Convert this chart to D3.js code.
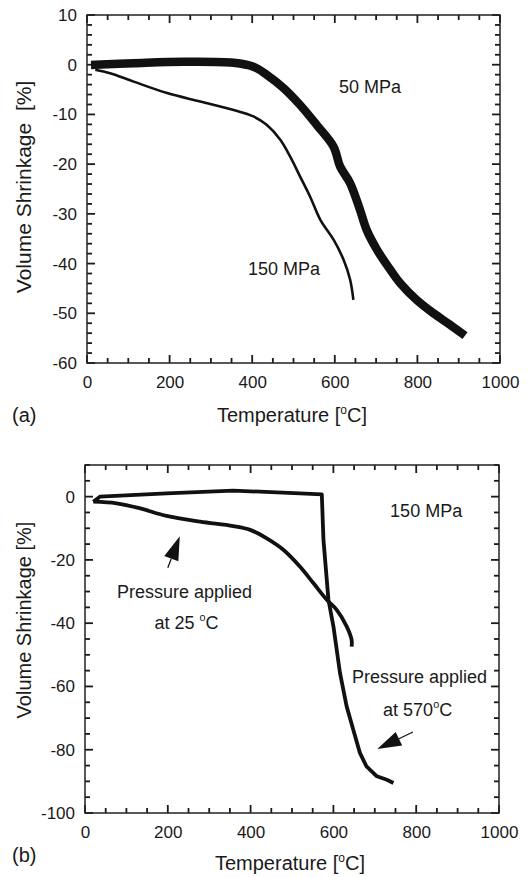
<!DOCTYPE html>
<html>
<head>
<meta charset="utf-8">
<script src="https://cdn.jsdelivr.net/npm/d3@7"></script>
<style>
  body { margin: 0; background: #fff; }
  svg text { font-family: "Liberation Sans", Arial, Helvetica, sans-serif; fill: #1a1a1a; }
  .axis path, .axis line { display: none; }
  .axis text { font-size: 17px; }
</style>
</head>
<body>
<svg id="chart" width="529" height="877"></svg>
<script>
// panel (a): [temperature, shrinkage]
const curve50MPa = [
  [20, 0], [113, 0.3], [234, 0.6], [355, 0.4], [403, -0.4], [435, -2],
  [476, -4.7], [516, -8.1], [556, -12.1], [597, -16.5], [613, -20.5],
  [637, -23.8], [661, -29.2], [677, -33.2], [702, -37.2], [734, -41.2],
  [758, -43.9], [798, -47.3], [839, -50], [879, -52.3], [907, -54]
];
const curve150MPa = [
  [20, -1], [56, -1.7], [113, -3.4], [194, -5.7], [274, -7.4], [355, -9.1],
  [403, -10.4], [435, -12.1], [468, -15.1], [492, -18.5], [516, -22.5],
  [540, -26.5], [565, -31.2], [597, -35.2], [621, -39.2], [637, -43.2], [645, -47.3]
];
// panel (b)
const curveAt570 = [
  [20, -1.6], [36, 0], [197, 1.05], [358, 1.9], [519, 1.05], [572, 0.7],
  [576, -13.7], [588, -32.6], [600, -41], [616, -55.8], [632, -66.3],
  [648, -73.7], [664, -81], [680, -85.3], [705, -88.4], [729, -89.5], [745, -90.5]
];
const curveAt25 = [
  [20, -1.6], [76, -2.1], [133, -3.7], [197, -6.1], [278, -7.9], [358, -9.3],
  [399, -10.5], [439, -13.2], [479, -16.8], [519, -22.1], [552, -27.4],
  [584, -32.6], [608, -35.8], [632, -41], [644, -45.3], [644, -47.4]
];

const xTicks = [0, 200, 400, 600, 800, 1000];
const yTicksA = [10, 0, -10, -20, -30, -40, -50, -60];
const yTicksB = [0, -20, -40, -60, -80, -100];

const svg = d3.select('#chart');

function degLabel(sel, pre, post) {
  sel.append('tspan').text(pre);
  sel.append('tspan').attr('dy', -8).attr('font-size', '0.6em').text('o');
  sel.append('tspan').attr('dy', 8).text(post);
}

function panel(opts) {
  const { left, top, width, height, yDomain, yTicks, yMinor } = opts;
  const g = svg.append('g').attr('transform', `translate(${left},${top})`);
  const x = d3.scaleLinear().domain([0, 1000]).range([0, width]);
  const y = d3.scaleLinear().domain(yDomain).range([height, 0]);
  const xAll = d3.range(0, 1001, 50);
  const yAll = d3.range(yDomain[0], yDomain[1] + 0.001, yMinor);

  // labels via d3 axes
  g.append('g').attr('class', 'axis').attr('transform', `translate(0,${height})`)
    .call(d3.axisBottom(x).tickValues(xTicks).tickSize(0).tickPadding(13).tickFormat(d3.format('d')));
  g.append('g').attr('class', 'axis')
    .call(d3.axisLeft(y).tickValues(yTicks).tickSize(0).tickPadding(10).tickFormat(d => String(d)));

  // inward tick marks on all four sides
  const tk = g.append('g').attr('stroke', '#1a1a1a').attr('stroke-width', 1.8);
  xAll.forEach(v => {
    const len = v % 200 === 0 ? 8 : 5;
    tk.append('line').attr('x1', x(v)).attr('x2', x(v)).attr('y1', height).attr('y2', height - len);
    tk.append('line').attr('x1', x(v)).attr('x2', x(v)).attr('y1', 0).attr('y2', len);
  });
  yAll.forEach(v => {
    const len = yTicks.includes(v) ? 8 : 5;
    tk.append('line').attr('x1', 0).attr('x2', len).attr('y1', y(v)).attr('y2', y(v));
    tk.append('line').attr('x1', width).attr('x2', width - len).attr('y1', y(v)).attr('y2', y(v));
  });

  g.append('rect').attr('width', width).attr('height', height)
    .attr('fill', 'none').attr('stroke', '#222').attr('stroke-width', 1.5);

  return { g, x, y };
}

const line = (x, y) => d3.line().x(d => x(d[0])).y(d => y(d[1])).curve(d3.curveCatmullRom.alpha(0.5));

// ---------- panel (a)
const A = panel({ left: 87, top: 15, width: 413, height: 348, yDomain: [-60, 10], yTicks: yTicksA, yMinor: 2 });
A.g.append('path').datum(curve50MPa).attr('d', line(A.x, A.y))
  .attr('fill', 'none').attr('stroke', '#111').attr('stroke-width', 8.5).attr('stroke-linejoin', 'round').attr('stroke-linecap', 'square');
A.g.append('path').datum(curve150MPa).attr('d', line(A.x, A.y))
  .attr('fill', 'none').attr('stroke', '#111').attr('stroke-width', 2.6).attr('stroke-linejoin', 'round');
A.g.append('text').attr('x', A.x(610)).attr('y', A.y(-4.5)).attr('font-size', 18).attr('dy', '0.35em').text('50 MPa');
A.g.append('text').attr('x', A.x(390)).attr('y', A.y(-41)).attr('font-size', 18).attr('dy', '0.35em').text('150 MPa');

svg.append('text').attr('transform', 'translate(31,187) rotate(-90)').attr('text-anchor', 'middle')
  .attr('font-size', 21).style('white-space', 'pre').text('Volume Shrinkage  [%]');
degLabel(svg.append('text').attr('x', 292).attr('y', 422).attr('text-anchor', 'middle').attr('font-size', 20),
  'Temperature [', 'C]');
svg.append('text').attr('x', 12).attr('y', 422).attr('font-size', 20).text('(a)');

// ---------- panel (b)
const B = panel({ left: 85, top: 465, width: 414, height: 348, yDomain: [-100, 10], yTicks: yTicksB, yMinor: 5 });
// sharp corner where pressure is applied, so no spline here
B.g.append('path').datum(curveAt570).attr('d', line(B.x, B.y).curve(d3.curveLinear))
  .attr('fill', 'none').attr('stroke', '#111').attr('stroke-width', 3.8).attr('stroke-linejoin', 'round');
B.g.append('path').datum(curveAt25).attr('d', line(B.x, B.y))
  .attr('fill', 'none').attr('stroke', '#111').attr('stroke-width', 3.8).attr('stroke-linejoin', 'round');

B.g.append('text').attr('x', B.x(737)).attr('y', B.y(-4.5)).attr('font-size', 18).attr('dy', '0.35em').text('150 MPa');
B.g.append('text').attr('x', B.x(77)).attr('y', B.y(-30)).attr('font-size', 18).attr('dy', '0.35em').text('Pressure applied');
degLabel(B.g.append('text').attr('x', B.x(168)).attr('y', B.y(-40)).attr('font-size', 18).attr('dy', '0.35em'), 'at 25 ', 'C');
B.g.append('text').attr('x', B.x(645)).attr('y', B.y(-57)).attr('font-size', 18).attr('dy', '0.35em').text('Pressure applied');
degLabel(B.g.append('text').attr('x', B.x(720)).attr('y', B.y(-67.5)).attr('font-size', 18).attr('dy', '0.35em'), 'at 570', 'C');

// arrows: [tail, tip] in data units
const arrows = [
  [[200, -22.5], [229, -12.5]],
  [[792, -74.4], [706, -79.8]]
];
arrows.forEach(([t, h]) => {
  const x1 = B.x(t[0]), y1 = B.y(t[1]), x2 = B.x(h[0]), y2 = B.y(h[1]);
  const ang = Math.atan2(y2 - y1, x2 - x1);
  const len = 24, half = 7.5;
  const bx = x2 - len * Math.cos(ang), by = y2 - len * Math.sin(ang);
  B.g.append('line').attr('x1', x1).attr('y1', y1).attr('x2', bx).attr('y2', by)
    .attr('stroke', '#111').attr('stroke-width', 1.3);
  B.g.append('polygon').attr('fill', '#111').attr('points', [
    [x2, y2],
    [bx + half * Math.sin(ang), by - half * Math.cos(ang)],
    [bx - half * Math.sin(ang), by + half * Math.cos(ang)]
  ].map(p => p.join(',')).join(' '));
});

svg.append('text').attr('transform', 'translate(31,620) rotate(-90)').attr('text-anchor', 'middle')
  .attr('font-size', 20).text('Volume Shrinkage [%]');
degLabel(svg.append('text').attr('x', 290).attr('y', 870).attr('text-anchor', 'middle').attr('font-size', 20),
  'Temperature [', 'C]');
svg.append('text').attr('x', 12).attr('y', 862).attr('font-size', 20).text('(b)');
</script>
</body>
</html>
